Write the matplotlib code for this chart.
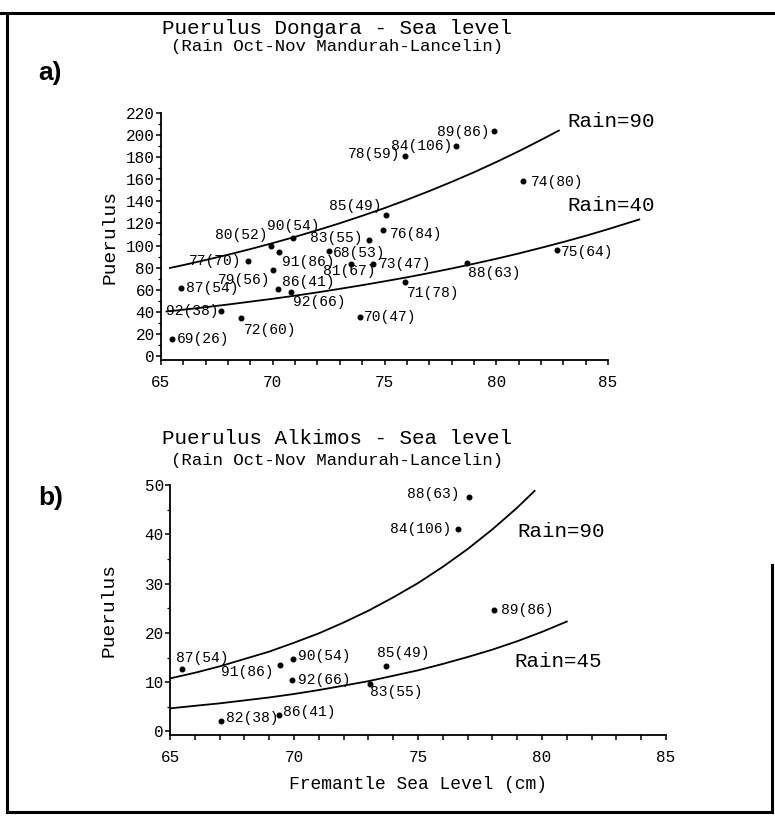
import matplotlib
matplotlib.use("Agg")
import matplotlib.pyplot as plt
from matplotlib.ticker import MultipleLocator

# Dongara: Fremantle sea level (cm) vs puerulus settlement, labelled year(rain)
dongaraLabels = ["69(26)", "92(38)", "72(60)", "87(54)", "77(70)", "79(56)", "80(52)", "90(54)",
                 "91(86)", "86(41)", "92(66)", "68(53)", "83(55)", "81(67)", "73(47)", "85(49)",
                 "76(84)", "70(47)", "78(59)", "84(106)", "89(86)", "74(80)", "88(63)", "71(78)",
                 "75(64)"]
dongaraSea = [65.5, 67.7, 68.6, 65.9, 68.9, 70.0, 69.9, 70.9, 70.3, 70.25, 70.8, 72.5, 74.3,
              73.5, 74.5, 75.05, 74.95, 73.9, 75.9, 78.2, 79.9, 81.2, 78.7, 75.9, 82.7]
dongaraPuer = [15, 41, 34, 62, 86, 78, 100, 107, 94, 61, 58, 95, 105, 83, 83, 128, 114, 35,
               181, 190, 204, 158, 84, 67, 96]

# fitted curves for the two rain levels
dongaraRain90X = [65.4, 66, 67, 68, 69, 70, 71, 72, 73, 74, 75, 76, 77, 78, 79, 80, 81, 82, 82.8]
dongaraRain90Y = [79.7, 82.3, 86.9, 91.7, 96.8, 102.2, 107.9, 113.9, 120.2, 126.9, 133.9,
                  141.4, 149.3, 157.6, 166.3, 175.6, 185.3, 195.6, 204.1]
dongaraRain40X = [65.25, 66, 67, 68, 69, 70, 71, 72, 73, 74, 75, 76, 77, 78, 79, 80, 81, 82,
                  83, 84, 85, 86.4]
dongaraRain40Y = [40.3, 41.9, 44.2, 46.6, 49.2, 51.8, 54.6, 57.6, 60.8, 64.1, 67.6, 71.2,
                  75.1, 79.2, 83.5, 88.0, 92.8, 97.9, 103.2, 108.8, 114.8, 123.6]

# Alkimos
alkimosLabels = ["87(54)", "91(86)", "90(54)", "92(66)", "82(38)", "86(41)", "85(49)",
                 "83(55)", "89(86)", "88(63)", "84(106)"]
alkimosSea = [65.5, 69.45, 69.95, 69.9, 67.05, 69.4, 73.7, 73.05, 78.05, 77.05, 76.6]
alkimosPuer = [12.6, 13.4, 14.6, 10.4, 2.1, 3.3, 13.3, 9.6, 24.6, 47.6, 41.1]

alkimosRain90X = [65.03, 66, 67, 68, 69, 70, 71, 72, 73, 74, 75, 76, 77, 78, 79, 79.7]
alkimosRain90Y = [10.8, 11.9, 13.2, 14.7, 16.2, 18.0, 19.9, 22.1, 24.5, 27.2, 30.1, 33.4,
                  37.0, 41.0, 45.4, 48.8]
alkimosRain45X = [65.03, 66, 67, 68, 69, 70, 71, 72, 73, 74, 75, 76, 77, 78, 79, 80, 81]
alkimosRain45Y = [4.7, 5.2, 5.7, 6.3, 6.9, 7.6, 8.4, 9.3, 10.2, 11.3, 12.4, 13.7, 15.1,
                  16.6, 18.3, 20.2, 22.3]

# label placement (pixels right, pixels down, alignment)
dongaraOffsets = [(5, 0, "left"), (-3, 0, "right"), (2, 12, "left"), (5, 0, "left"),
                  (-7, 0, "right"), (-2, 10, "right"), (-3, -11, "right"), (0, -12, "center"),
                  (3, 10, "left"), (4, -7, "left"), (2, 10, "left"), (4, 2, "left"),
                  (-6, -2, "right"), (-2, 7, "center"), (6, 0, "left"), (-4, -9, "right"),
                  (6, 4, "left"), (4, 0, "left"), (-4, -2, "right"), (-4, 0, "right"),
                  (-5, 1, "right"), (8, 1, "left"), (1, 10, "left"), (2, 11, "left"),
                  (4, 2, "left")]
alkimosOffsets = [(-6, -11, "left"), (-7, 7, "right"), (5, -3, "left"), (6, 0, "left"),
                  (5, -3, "left"), (4, -3, "left"), (-9, -13, "left"), (0, 8, "left"),
                  (7, 0, "left"), (-9, -3, "right"), (-6, 0, "right")]

mono = "Liberation Mono"
plt.rcParams["font.family"] = [mono, "DejaVu Sans Mono"]
W, H = 775, 817


def styleAxes(ax, ymajor, yminor):
    ax.set_xlim(65, 85)
    ax.spines["top"].set_visible(False)
    ax.spines["right"].set_visible(False)
    for s in ("left", "bottom"):
        ax.spines[s].set_linewidth(1.3)
    ax.xaxis.set_major_locator(MultipleLocator(5))
    ax.xaxis.set_minor_locator(MultipleLocator(1))
    ax.yaxis.set_major_locator(MultipleLocator(ymajor))
    ax.yaxis.set_minor_locator(MultipleLocator(yminor))
    ax.tick_params(axis="x", which="both", direction="out", length=3.5, width=1.1,
                   labelsize=11.5, pad=7)
    ax.tick_params(axis="y", which="major", direction="out", length=3.5, width=1.1,
                   labelsize=11.5, pad=1)
    ax.tick_params(axis="y", which="minor", direction="out", length=2, width=0.9)


def drawPanel(ax, xs, ys, labels, offsets):
    ax.plot(xs, ys, "o", color="black", markersize=3.3)
    for x, y, lab, (dx, dy, ha) in zip(xs, ys, labels, offsets):
        ax.annotate(lab, (x, y), xytext=(dx * 0.72, -dy * 0.72), textcoords="offset points",
                    ha=ha, va="center", fontsize=10.5)


fig = plt.figure(figsize=(W / 100, H / 100), dpi=100)

# a) Dongara
ax1 = fig.add_axes([161 / W, 1 - 360.4 / H, 447 / W, 247.4 / H])
styleAxes(ax1, 20, 10)
ax1.set_ylim(-4, 220)
drawPanel(ax1, dongaraSea, dongaraPuer, dongaraLabels, dongaraOffsets)
ax1.plot(dongaraRain90X, dongaraRain90Y, color="black", lw=1.3)
ax1.plot(dongaraRain40X, dongaraRain40Y, color="black", lw=1.3, clip_on=False)
ax1.text(83.2, 212, "Rain=90", fontsize=15, va="center")
ax1.text(83.2, 136, "Rain=40", fontsize=15, va="center")
ax1.set_ylabel("Puerulus", fontsize=14)
ax1.yaxis.set_label_coords(-0.096, 0.5)

# b) Alkimos
ax2 = fig.add_axes([170 / W, 1 - 735.4 / H, 496 / W, 250.4 / H])
styleAxes(ax2, 10, 5)
ax2.set_ylim(-0.8, 50)
drawPanel(ax2, alkimosSea, alkimosPuer, alkimosLabels, alkimosOffsets)
ax2.plot(alkimosRain90X, alkimosRain90Y, color="black", lw=1.3)
ax2.plot(alkimosRain45X, alkimosRain45Y, color="black", lw=1.3)
ax2.text(79.0, 40.5, "Rain=90", fontsize=15, va="center")
ax2.text(78.9, 14.1, "Rain=45", fontsize=15, va="center")
ax2.set_ylabel("Puerulus", fontsize=14)
ax2.yaxis.set_label_coords(-0.105, 0.5)
ax2.set_xlabel("Fremantle Sea Level (cm)", fontsize=13, labelpad=8)

# titles and panel letters
fig.text(337 / W, 1 - 29 / H, "Puerulus Dongara - Sea level", fontsize=15, ha="center", va="center")
fig.text(337 / W, 1 - 46 / H, "(Rain Oct-Nov Mandurah-Lancelin)", fontsize=12.5, ha="center", va="center")
fig.text(337 / W, 1 - 439 / H, "Puerulus Alkimos - Sea level", fontsize=15, ha="center", va="center")
fig.text(337 / W, 1 - 461 / H, "(Rain Oct-Nov Mandurah-Lancelin)", fontsize=12.5, ha="center", va="center")
fig.text(38 / W, 1 - 73 / H, "a)", fontsize=19, fontweight="bold", family="Liberation Sans", va="center")
fig.text(38 / W, 1 - 498 / H, "b)", fontsize=19, fontweight="bold", family="Liberation Sans", va="center")

# page frame
frame = dict(color="black", lw=2.2, transform=fig.transFigure)
fig.add_artist(plt.Line2D([0, 1], [1 - 13 / H, 1 - 13 / H], **frame))
fig.add_artist(plt.Line2D([7 / W, 7 / W], [1 - 13 / H, 1 - 812 / H], **frame))
fig.add_artist(plt.Line2D([7 / W, 772 / W], [1 - 812 / H, 1 - 812 / H], **frame))
fig.add_artist(plt.Line2D([772 / W, 772 / W], [1 - 565 / H, 1 - 812 / H], **frame))

fig.savefig("out.png", dpi=100)
